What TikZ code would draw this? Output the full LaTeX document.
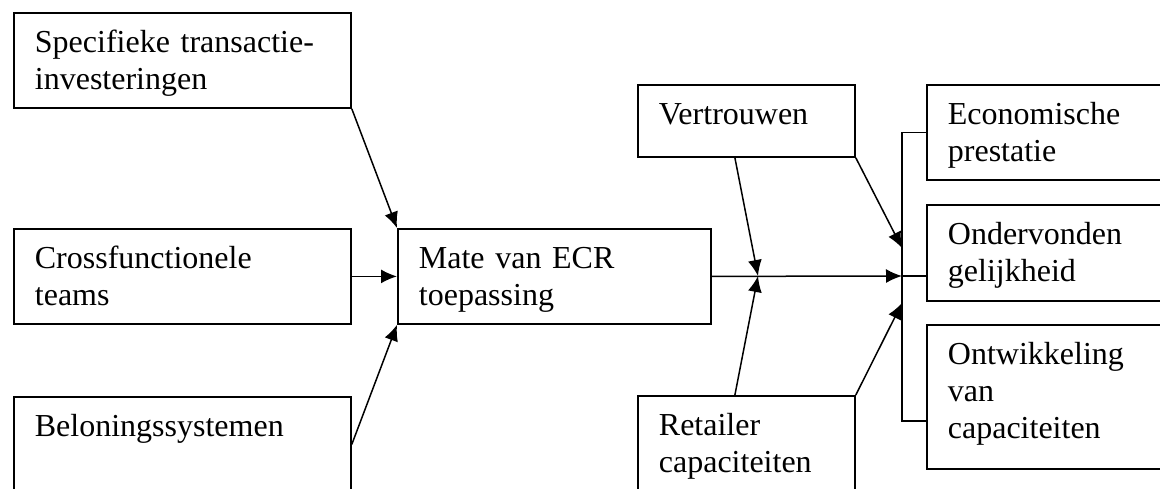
\documentclass[tikz,border=0pt]{standalone}
\usepackage{fontspec}
\setmainfont{Liberation Serif}
\usetikzlibrary{arrows.meta}
\begin{document}
\begin{tikzpicture}[x=1pt,y=-1pt]
% Stijlen
\tikzstyle{kader}=[draw,line width=1.8pt,anchor=north west,align=left,inner xsep=21pt,inner ysep=0pt,text height=40pt,font=\fontsize{32}{36.6}\selectfont]
\tikzstyle{pijl}=[-{Latex[length=16pt,width=14pt]},line width=1.5pt]
\tikzstyle{lijn}=[line width=1.5pt]
% Afmetingen
\def\BreedLinks{295pt}
\def\BreedMidden{271pt}
\def\BreedKlein{175pt}
\def\BreedRechts{210pt}
\useasboundingbox (0,0) rectangle (1160,488);
\clip (0,0) rectangle (1160,488);
% Knopen
\node[kader,text width=\BreedLinks,text depth=55pt] (S) at (13,12) {Specifieke transactie-\\investeringen};
\node[kader,text width=\BreedLinks,text depth=55pt] (C) at (13,228) {Crossfunctionele\\teams};
\node[kader,text width=\BreedLinks,text depth=55pt] (B) at (13,396) {Beloningssystemen};
\node[kader,text width=\BreedMidden,text depth=55pt] (M) at (397,228) {Mate van ECR\\toepassing};
\node[kader,text width=\BreedKlein,text depth=32pt] (V) at (637,84) {Vertrouwen};
\node[kader,text width=\BreedKlein,text depth=55pt] (R) at (637,395) {Retailer\\capaciteiten};
\node[kader,text width=\BreedRechts,text depth=55pt] (E) at (926,84) {Economische\\prestatie};
\node[kader,text width=\BreedRechts,text depth=56pt] (O) at (926,204) {Ondervonden\\gelijkheid};
\node[kader,text width=\BreedRechts,text depth=104pt] (W) at (926,324) {Ontwikkeling\\van\\capaciteiten};
\coordinate (kruis) at (758,276);
\coordinate (knoop) at (902,276);
\coordinate (boven) at (902,248);
\coordinate (onder) at (902,303);
% Pijlen
\draw[pijl] (S.south east) -- (M.north west);
\draw[pijl] (C.east) -- (M.west);
\draw[pijl] (B.east) -- (M.south west);
\draw[pijl] (M.east) -- (knoop);
\draw[pijl] ([xshift=-11.5pt]V.south) -- (kruis);
\draw[pijl] ([xshift=-11.5pt]R.north) -- (kruis);
\draw[pijl] (V.south east) -- (boven);
\draw[pijl] (R.north east) -- (onder);
% Haak
\draw[lijn] (E.west) -| (knoop) |- ([yshift=-24pt]W.west);
\draw[lijn] (knoop) -- (O.west |- knoop);
\end{tikzpicture}
\end{document}
